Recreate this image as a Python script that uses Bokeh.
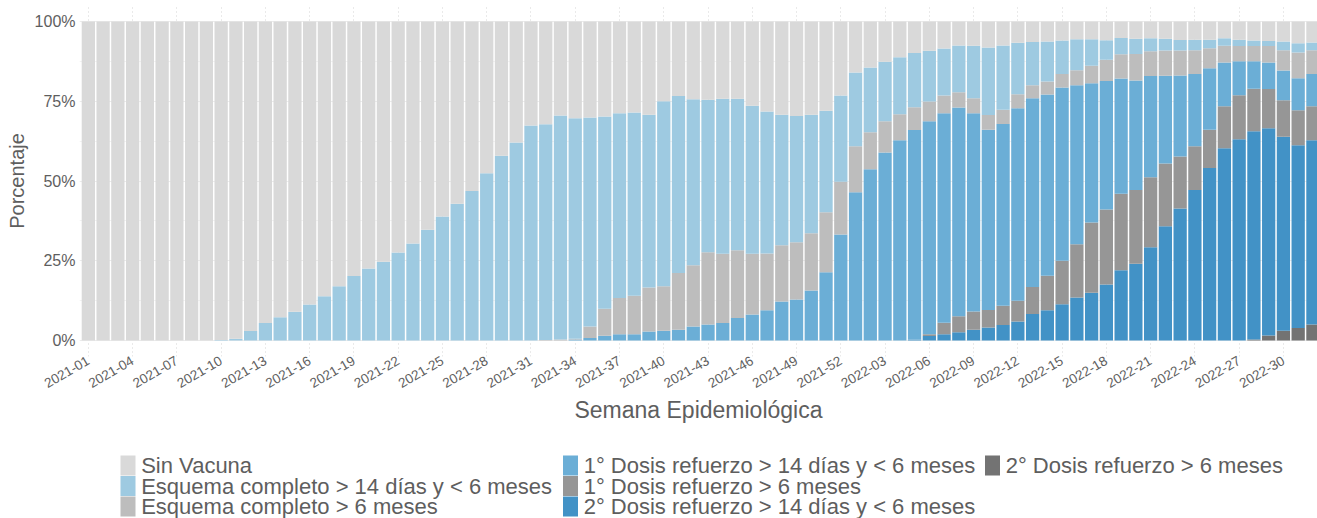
from bokeh.plotting import figure
from bokeh.layouts import column
from bokeh.models import ColumnDataSource, Range1d, FixedTicker
from bokeh.core.properties import value
from bokeh.embed import file_html
from bokeh.resources import INLINE

weeks = [f"2021-{w:02d}" for w in range(1, 53)] + [f"2022-{w:02d}" for w in range(1, 33)]

sin_vacuna = [100, 100, 100, 100, 100, 100, 100, 100, 100, 99.8,
              99.4, 97.0, 94.5, 92.7, 91.0, 88.7, 86.1, 83.0, 79.8, 77.4,
              75.3, 72.4, 69.6, 65.3, 61.1, 57.1, 53.1, 47.6, 42.1, 37.9,
              32.6, 32.2, 29.5, 30.3, 30.1, 29.8, 28.8, 28.5, 29.2, 25.0,
              23.4, 24.4, 24.5, 24.2, 24.2, 26.4, 28.2, 29.2, 29.6, 29.2,
              28.0, 23.2, 16.0, 14.4, 12.6, 11.2, 9.9, 9.2, 8.5, 7.5,
              7.6, 8.2, 7.5, 6.7, 6.4, 6.3, 6.0, 5.6, 5.6, 5.9,
              5.2, 5.4, 5.3, 5.4, 5.8, 5.7, 5.7, 5.3, 5.7, 6.0,
              6.1, 6.3, 6.8, 6.6]

esq_menor_6m = [0, 0, 0, 0, 0, 0, 0, 0, 0, 0.2,
                0.6, 3.0, 5.5, 7.3, 9.0, 11.3, 13.9, 17.0, 20.2, 22.6,
                24.7, 27.6, 30.4, 34.7, 38.9, 42.9, 46.9, 52.4, 57.9, 62.1,
                67.4, 67.6, 70.2, 69.1, 65.5, 60.2, 57.9, 57.5, 54.2, 58.0,
                55.4, 52.0, 47.8, 48.6, 47.5, 46.4, 44.5, 40.9, 39.6, 37.2,
                31.8, 27.0, 23.1, 20.3, 18.7, 17.9, 17.0, 15.9, 14.7, 14.7,
                16.5, 21.1, 20.2, 16.1, 13.6, 12.5, 10.5, 9.7, 8.3, 6.1,
                5.1, 4.8, 4.0, 3.7, 3.3, 3.3, 2.7, 2.3, 2.0, 1.7,
                1.6, 2.7, 2.9, 2.4]

esq_mayor_6m = [0, 0, 0, 0, 0, 0, 0, 0, 0, 0,
                0, 0, 0, 0, 0, 0, 0, 0, 0, 0,
                0, 0, 0, 0, 0, 0, 0, 0, 0, 0,
                0, 0.2, 0.3, 0.3, 3.6, 8.5, 11.3, 12.0, 13.8, 13.9,
                17.8, 19.2, 22.7, 21.7, 21.2, 19.0, 17.8, 17.7, 17.9, 17.9,
                18.8, 16.6, 14.4, 11.6, 9.8, 8.1, 7.1, 6.2, 5.6, 4.8,
                4.7, 4.6, 4.4, 4.4, 4.1, 4.1, 4.2, 4.7, 5.5, 6.7,
                7.6, 8.3, 7.8, 7.9, 7.8, 7.5, 6.3, 5.3, 4.8, 4.8,
                5.2, 6.4, 8.1, 7.5]

ref1_menor_6m = [0, 0, 0, 0, 0, 0, 0, 0, 0, 0,
                 0, 0, 0, 0, 0, 0, 0, 0, 0, 0,
                 0, 0, 0, 0, 0, 0, 0, 0, 0, 0,
                 0, 0, 0, 0.3, 0.8, 1.5, 2.0, 2.0, 2.8, 3.1,
                 3.4, 4.4, 5.0, 5.5, 7.1, 8.2, 9.5, 12.2, 12.9, 15.7,
                 21.4, 33.2, 46.5, 53.7, 58.9, 62.8, 65.7, 66.7, 65.6, 65.4,
                 62.1, 56.5, 57.0, 60.3, 59.1, 56.8, 54.3, 49.8, 43.6, 40.2,
                 36.1, 34.3, 31.7, 27.5, 25.4, 22.6, 19.2, 13.7, 10.6, 8.6,
                 8.3, 9.3, 10.0, 10.1]

ref1_mayor_6m = [0, 0, 0, 0, 0, 0, 0, 0, 0, 0,
                 0, 0, 0, 0, 0, 0, 0, 0, 0, 0,
                 0, 0, 0, 0, 0, 0, 0, 0, 0, 0,
                 0, 0, 0, 0, 0, 0, 0, 0, 0, 0,
                 0, 0, 0, 0, 0, 0, 0, 0, 0, 0,
                 0, 0, 0, 0, 0, 0, 0, 0.6, 3.6, 5.0,
                 5.7, 5.5, 6.0, 6.5, 8.5, 10.8, 13.6, 16.7, 22.0, 23.5,
                 24.0, 23.1, 22.0, 19.7, 16.3, 13.7, 12.0, 13.1, 13.8, 13.3,
                 12.3, 11.4, 11.0, 10.6]

ref2_menor_6m = [0, 0, 0, 0, 0, 0, 0, 0, 0, 0,
                 0, 0, 0, 0, 0, 0, 0, 0, 0, 0,
                 0, 0, 0, 0, 0, 0, 0, 0, 0, 0,
                 0, 0, 0, 0, 0, 0, 0, 0, 0, 0,
                 0, 0, 0, 0, 0, 0, 0, 0, 0, 0,
                 0, 0, 0, 0, 0, 0, 0.3, 1.4, 2.0, 2.6,
                 3.4, 4.1, 4.9, 6.0, 8.3, 9.5, 11.4, 13.5, 15.0, 17.6,
                 22.0, 24.1, 29.2, 35.8, 41.4, 47.2, 54.1, 60.3, 63.1, 65.3,
                 64.9, 60.8, 57.3, 57.8]

ref2_mayor_6m = [0, 0, 0, 0, 0, 0, 0, 0, 0, 0,
                 0, 0, 0, 0, 0, 0, 0, 0, 0, 0,
                 0, 0, 0, 0, 0, 0, 0, 0, 0, 0,
                 0, 0, 0, 0, 0, 0, 0, 0, 0, 0,
                 0, 0, 0, 0, 0, 0, 0, 0, 0, 0,
                 0, 0, 0, 0, 0, 0, 0, 0, 0, 0,
                 0, 0, 0, 0, 0, 0, 0, 0, 0, 0,
                 0, 0, 0, 0, 0, 0, 0, 0, 0, 0.3,
                 1.6, 3.1, 3.9, 5.0]

series_labels = ["Sin Vacuna",
                 "Esquema completo > 14 días y < 6 meses",
                 "Esquema completo > 6 meses",
                 "1° Dosis refuerzo > 14 días y < 6 meses",
                 "1° Dosis refuerzo > 6 meses",
                 "2° Dosis refuerzo > 14 días y < 6 meses",
                 "2° Dosis refuerzo > 6 meses"]
series_keys = ["sin", "e_lt", "e_gt", "r1_lt", "r1_gt", "r2_lt", "r2_gt"]
series_colors = ["#d9d9d9", "#9ecae1", "#bdbdbd", "#6baed6", "#969696", "#4292c6", "#737373"]

y_ticks = [0, 25, 50, 75, 100]
y_tick_labels = ["0%", "25%", "50%", "75%", "100%"]

idx = list(range(len(weeks)))
src = ColumnDataSource(dict(x=idx, week=weeks, sin=sin_vacuna, e_lt=esq_menor_6m,
                            e_gt=esq_mayor_6m, r1_lt=ref1_menor_6m, r1_gt=ref1_mayor_6m,
                            r2_lt=ref2_menor_6m, r2_gt=ref2_mayor_6m))

FONT = "Liberation Sans"
TXT = "#5e5e5e"
LEFT = 79
FRAME_W = 1238

# ---------------- main chart ----------------
p = figure(frame_width=FRAME_W, frame_height=351,
           x_range=Range1d(-0.6, 83.31), y_range=Range1d(-5, 105),
           output_backend="svg", toolbar_location=None,
           min_border_left=LEFT, min_border_right=0, min_border_top=5, min_border_bottom=89)
p.outline_line_color = None
p.background_fill_color = "white"

stack_order = ["r2_gt", "r2_lt", "r1_gt", "r1_lt", "e_gt", "e_lt", "sin"]
stack_colors = [series_colors[series_keys.index(k)] for k in stack_order]
p.vbar_stack(stack_order, x="x", width=0.9, color=stack_colors, source=src, line_color=None)

x_ticks = list(range(0, len(weeks), 3))
p.xaxis.ticker = FixedTicker(ticks=x_ticks)
p.xaxis.major_label_overrides = {i: weeks[i] for i in x_ticks}
p.xaxis.major_label_orientation = 0.5236
p.xaxis.major_label_text_font = FONT
p.xaxis.major_label_text_font_size = "13.5px"
p.xaxis.major_label_text_color = TXT
p.xaxis.major_label_standoff = 3
p.xaxis.axis_label = "Semana Epidemiológica"
p.xaxis.axis_label_text_font = FONT
p.xaxis.axis_label_text_font_size = "23px"
p.xaxis.axis_label_text_font_style = "normal"
p.xaxis.axis_label_text_color = TXT
p.xaxis.axis_label_standoff = 2

p.yaxis.ticker = FixedTicker(ticks=y_ticks, minor_ticks=[12.5, 37.5, 62.5, 87.5])
p.yaxis.major_label_overrides = dict(zip(y_ticks, y_tick_labels))
p.yaxis.major_label_text_font = FONT
p.yaxis.major_label_text_font_size = "16px"
p.yaxis.major_label_text_color = TXT
p.yaxis.major_label_standoff = 4
p.yaxis.axis_label = "Porcentaje"
p.yaxis.axis_label_text_font = FONT
p.yaxis.axis_label_text_font_size = "20px"
p.yaxis.axis_label_text_font_style = "normal"
p.yaxis.axis_label_text_color = TXT
p.yaxis.axis_label_standoff = 4

for ax in (p.xaxis, p.yaxis):
    ax.axis_line_color = None
    ax.major_tick_line_color = None
    ax.minor_tick_line_color = None
    ax.major_tick_out = 0
    ax.major_tick_in = 0
    ax.minor_tick_out = 0
    ax.minor_tick_in = 0

p.xgrid.ticker = FixedTicker(ticks=x_ticks)
p.xgrid.grid_line_color = "#d4d4d4"
p.xgrid.grid_line_dash = "1 3"
p.ygrid.grid_line_color = "#ececec"
p.ygrid.minor_grid_line_color = "#f3f3f3"

# ---------------- legend (3 rows, filled column by column) ----------------
LEG_H = 73
col_left = [120, 562.5, 984.5]      # layout: left edge of each legend column (page px)
row_top = [10, 30.5, 51]            # layout: top of each key square
key_w, key_h, text_gap = 15, 20, 5.7

n = len(series_labels)
cols = [i // 3 for i in range(n)]
rows = [i % 3 for i in range(n)]
leg_src = ColumnDataSource(dict(
    left=[col_left[c] for c in cols],
    right=[col_left[c] + key_w for c in cols],
    top=[row_top[r] for r in rows],
    bottom=[row_top[r] + key_h for r in rows],
    tx=[col_left[c] + key_w + text_gap for c in cols],
    ty=[row_top[r] + key_h / 2 for r in rows],
    label=series_labels,
    color=series_colors,
))

leg = figure(frame_width=FRAME_W, frame_height=LEG_H,
             x_range=Range1d(LEFT, LEFT + FRAME_W), y_range=Range1d(LEG_H, 0),
             output_backend="svg", toolbar_location=None,
             min_border_left=LEFT, min_border_right=0,
             min_border_top=0, min_border_bottom=0)
leg.axis.visible = False
leg.grid.visible = False
leg.outline_line_color = None
leg.quad(left="left", right="right", top="top", bottom="bottom", fill_color="color",
         line_color=None, source=leg_src)
leg.text(x="tx", y="ty", text="label", source=leg_src, text_font=value(FONT),
         text_font_size=value("22px"), text_color=TXT, text_baseline="middle",
         text_align="left")

layout = column(p, leg, spacing=0)
open("out.html", "w").write(file_html(layout, INLINE))
